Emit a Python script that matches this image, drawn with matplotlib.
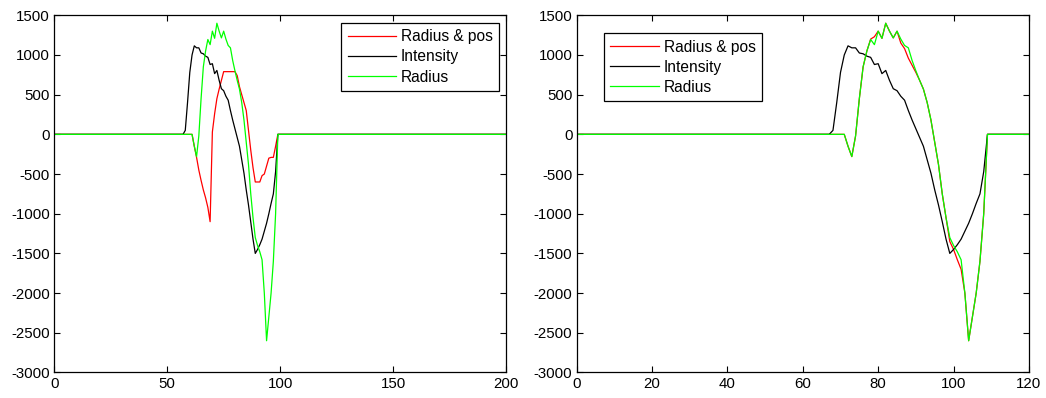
import numpy as np
import matplotlib
matplotlib.use("Agg")
import matplotlib.pyplot as plt

plt.rcParams['font.family'] = ['Liberation Sans', 'DejaVu Sans']
plt.rcParams['axes.unicode_minus'] = False

# non-zero part of each trace, samples 66..110 of the right-hand run
SEG_START = 66
LEFT_SHIFT = 10  # same event sits 10 samples earlier in the left run

intensity = [0, 0, 50, 400, 780, 1000, 1115, 1090, 1090, 1025,
             1015, 985, 970, 880, 890, 765, 805, 680, 575, 550,
             480, 430, 300, 180, 70, -40, -150, -320, -490, -700,
             -890, -1100, -1320, -1500, -1450, -1390, -1320, -1220, -1120, -1000,
             -870, -750, -470, 0, 0]

radius = [0, 0, 0, 0, 0, 0, -150, -280, -20, 450,
          850, 1050, 1195, 1130, 1300, 1210, 1400, 1300, 1215, 1300,
          1200, 1120, 1090, 930, 800, 680, 570, 400, 180, -100,
          -380, -750, -1050, -1300, -1400, -1480, -1580, -2000, -2600, -2300,
          -2000, -1600, -1000, 0, 0]

radius_pos_right = [0, 0, 0, 0, 0, 0, -150, -280, -20, 450,
                    850, 1050, 1200, 1230, 1300, 1210, 1400, 1300, 1215, 1300,
                    1150, 1080, 960, 870, 780, 680, 570, 400, 180, -100,
                    -380, -750, -1050, -1350, -1450, -1580, -1700, -2000, -2600, -2300,
                    -2000, -1600, -1000, 0, 0]

radius_pos_left = [0, 0, 0, 0, 0, 0, -150, -290, -450, -580,
                   -700, -800, -920, -1100, 30, 260, 450, 570, 680, 790,
                   790, 790, 790, 790, 790, 740, 600, 500, 400, 300,
                   50, -200, -420, -600, -600, -600, -520, -500, -400, -300,
                   -290, -290, -150, 0, 0]

labels = ["Radius & pos", "Intensity", "Radius"]
colors = ["#ff0000", "#000000", "#00ff00"]


def full_trace(seg, n, shift=0):
    y = np.zeros(n + 1)
    s = SEG_START - shift
    y[s:s + len(seg)] = seg
    return y


def style_axes(ax, xmax, xstep):
    ax.set_xlim(0, xmax)
    ax.set_ylim(-3000, 1500)
    ax.set_xticks(np.arange(0, xmax + 1, xstep))
    ax.set_yticks(np.arange(-3000, 1501, 500))
    ax.tick_params(direction="in", top=True, right=True, length=4,
                   labelsize=10.8, pad=3, width=0.8)
    for sp in ax.spines.values():
        sp.set_linewidth(0.9)


fig = plt.figure(figsize=(10.46, 3.98), dpi=100)
ax1 = fig.add_axes([0.0519, 0.0641, 0.4318, 0.8975])
ax2 = fig.add_axes([0.5513, 0.0641, 0.4324, 0.8975])

xl = np.arange(0, 201)
left_series = [full_trace(radius_pos_left, 200, LEFT_SHIFT),
               full_trace(intensity, 200, LEFT_SHIFT),
               full_trace(radius, 200, LEFT_SHIFT)]
for y, c, lab in zip(left_series, colors, labels):
    ax1.plot(xl, y, color=c, lw=0.9, label=lab)
style_axes(ax1, 200, 50)

xr = np.arange(0, 121)
right_series = [full_trace(radius_pos_right, 120),
                full_trace(intensity, 120),
                full_trace(radius, 120)]
for y, c, lab in zip(right_series, colors, labels):
    ax2.plot(xr, y, color=c, lw=0.9, label=lab)
style_axes(ax2, 120, 20)

leg_kw = dict(fancybox=False, framealpha=1, edgecolor="black", fontsize=11.2,
              handlelength=3.1, handletextpad=0.32, labelspacing=0.33,
              borderpad=0.42, borderaxespad=0)
l1 = ax1.legend(loc="upper right", bbox_to_anchor=(0.985, 0.979), **leg_kw)
l2 = ax2.legend(loc="upper left", bbox_to_anchor=(0.060, 0.950), **leg_kw)
for leg in (l1, l2):
    leg.get_frame().set_linewidth(0.9)

fig.savefig("out.png", dpi=100)
